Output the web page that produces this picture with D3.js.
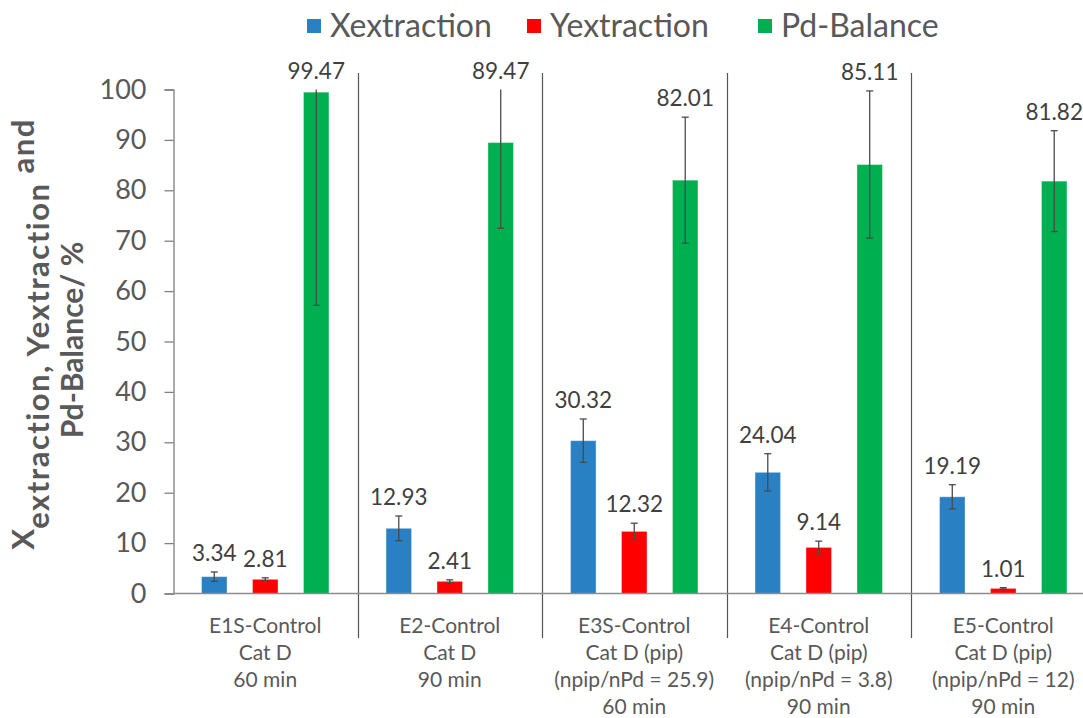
<!DOCTYPE html>
<html>
<head>
<meta charset="utf-8">
<script src="https://cdn.jsdelivr.net/npm/d3@7"></script>
<style>
  body { margin: 0; background: #fff; }
  text { font-family: Lato, "Open Sans", sans-serif; }
</style>
</head>
<body>
<script>
// chart data
var categories = ["E1S", "E2", "E3S", "E4", "E5"];
var categoryLines = [
	["E1S-Control", "Cat D", "60 min"],
	["E2-Control", "Cat D", "90 min"],
	["E3S-Control", "Cat D (pip)", "(npip/nPd = 25.9)", "60 min"],
	["E4-Control", "Cat D (pip)", "(npip/nPd = 3.8)", "90 min"],
	["E5-Control", "Cat D (pip)", "(npip/nPd = 12)", "90 min"]
];
var seriesNames = ["Xextraction", "Yextraction", "Pd-Balance"];
var seriesColors = ["#2980c2", "#ff0000", "#00b050"];
var xValues = [3.34, 12.93, 30.32, 24.04, 19.19];
var yValues = [2.81, 2.41, 12.32, 9.14, 1.01];
var pdValues = [99.47, 89.47, 82.01, 85.11, 81.82];
var xErrors = [0.93, 2.45, 4.3, 3.7, 2.4];
var yErrors = [0.3, 0.3, 1.63, 1.25, 0.15];
var pdErrors = [42.3, 17.0, 12.5, 14.6, 10.0];
var yTicks = [0, 10, 20, 30, 40, 50, 60, 70, 80, 90, 100];

var width = 1083;
var height = 718;
var textColor = "#595959";

var svg = d3.select("body")
				.append("svg")
				.attr("width", width)
				.attr("height", height);

// scales
var x0 = d3.scaleBand().domain(categories).range([173, 1095.5]).padding(0);
var x1 = d3.scaleBand().domain(seriesNames).range([0, x0.bandwidth()])
				.paddingInner(0.5).paddingOuter(0.56);
var y = d3.scaleLinear().domain([0, 100]).range([593.5, 89.5]);

// build rows for bars
var seriesValues = [xValues, yValues, pdValues];
var seriesErrors = [xErrors, yErrors, pdErrors];
var rows = [];
for (var s = 0; s < seriesNames.length; s++) {
	for (var i = 0; i < categories.length; i++) {
		rows.push({
			cat: categories[i],
			series: seriesNames[s],
			color: seriesColors[s],
			value: seriesValues[s][i],
			err: seriesErrors[s][i]
		});
	}
}

// separator lines between categories
var bounds = categories.slice(1).map(function(c) { return x0(c); });
svg.selectAll(".sep")
	.data(bounds)
	.enter()
	.append("line")
	.attr("class", "sep")
	.attr("x1", function(d) { return Math.round(d) + 0.5; })
	.attr("x2", function(d) { return Math.round(d) + 0.5; })
	.attr("y1", 73)
	.attr("y2", 638)
	.attr("stroke", "#555")
	.attr("stroke-width", 1.2);

// bars
svg.selectAll(".bar")
	.data(rows)
	.enter()
	.append("rect")
	.attr("class", "bar")
	.attr("x", function(d) { return x0(d.cat) + x1(d.series); })
	.attr("y", function(d) { return y(d.value); })
	.attr("width", x1.bandwidth())
	.attr("height", function(d) { return y(0) - y(d.value); })
	.attr("fill", function(d) { return d.color; })
	.attr("stroke", "rgba(255,255,255,0.35)")
	.attr("stroke-width", 1);

// error bars (clipped at 100)
var errG = svg.append("g").attr("stroke", "#4a4a4a").attr("stroke-width", 1.3);
rows.forEach(function(d) {
	var cx = x0(d.cat) + x1(d.series) + x1.bandwidth() / 2;
	var hi = d.value + d.err;
	var lo = d.value - d.err;
	var top = Math.min(hi, 100);
	errG.append("line")
		.attr("x1", cx).attr("x2", cx)
		.attr("y1", y(top)).attr("y2", y(lo));
	errG.append("line")
		.attr("x1", cx - 3.5).attr("x2", cx + 3.5)
		.attr("y1", y(lo)).attr("y2", y(lo));
	if (hi <= 100) {
		errG.append("line")
			.attr("x1", cx - 3.5).attr("x2", cx + 3.5)
			.attr("y1", y(hi)).attr("y2", y(hi));
	}
});

// data labels
svg.selectAll(".lbl")
	.data(rows)
	.enter()
	.append("text")
	.attr("class", "lbl")
	.attr("x", function(d) { return x0(d.cat) + x1(d.series) + x1.bandwidth() / 2; })
	.attr("y", function(d) { return y(Math.min(d.value + d.err, 100)) - 11; })
	.attr("text-anchor", "middle")
	.attr("font-size", 22.5)
	.attr("fill", "#404040")
	.text(function(d) { return d.value.toFixed(2); });

// y axis
var yAxis = d3.axisLeft(y).tickValues(yTicks).tickSize(9).tickPadding(18);
var yg = svg.append("g").attr("transform", "translate(173.5,0)").call(yAxis);
yg.select(".domain").attr("stroke", "#7f7f7f").attr("stroke-width", 1.3);
yg.selectAll(".tick line").attr("stroke", "#7f7f7f").attr("stroke-width", 1.3);
yg.selectAll(".tick text")
	.attr("font-size", 27)
	.attr("fill", textColor)
	.style("font-family", "Lato, sans-serif");

// x axis line
svg.append("line")
	.attr("x1", 173).attr("x2", width)
	.attr("y1", y(0)).attr("y2", y(0))
	.attr("stroke", "#8c8c8c")
	.attr("stroke-width", 1.3);

// category labels
categoryLines.forEach(function(lines, i) {
	var cx = x0(categories[i]) + x0.bandwidth() / 2;
	var t = svg.append("text")
		.attr("text-anchor", "middle")
		.attr("font-size", 21)
		.attr("fill", textColor);
	lines.forEach(function(line, j) {
		t.append("tspan")
			.attr("x", cx)
			.attr("y", 633 + j * 27)
			.text(line);
	});
});

// y axis title
var title1 = svg.append("text")
	.attr("transform", "translate(34,334) rotate(-90)")
	.attr("text-anchor", "middle")
	.attr("font-size", 31)
	.attr("font-weight", "bold")
	.attr("letter-spacing", 1.5)
	.attr("fill", textColor);
title1.append("tspan").text("X");
title1.append("tspan").attr("dy", 15).text("extraction, Yextraction");
title1.append("tspan").attr("dy", -15).text(" and");

svg.append("text")
	.attr("transform", "translate(83,340) rotate(-90)")
	.attr("text-anchor", "middle")
	.attr("font-size", 30)
	.attr("font-weight", "bold")
	.attr("fill", textColor)
	.text("Pd-Balance/ %");

// legend
var legendX = [307, 527, 758];
seriesNames.forEach(function(name, i) {
	svg.append("rect")
		.attr("x", legendX[i]).attr("y", 19)
		.attr("width", 14).attr("height", 14)
		.attr("fill", seriesColors[i]);
	svg.append("text")
		.attr("x", legendX[i] + 23).attr("y", 37)
		.attr("font-size", 32)
		.attr("fill", textColor)
		.text(name);
});
</script>
</body>
</html>
